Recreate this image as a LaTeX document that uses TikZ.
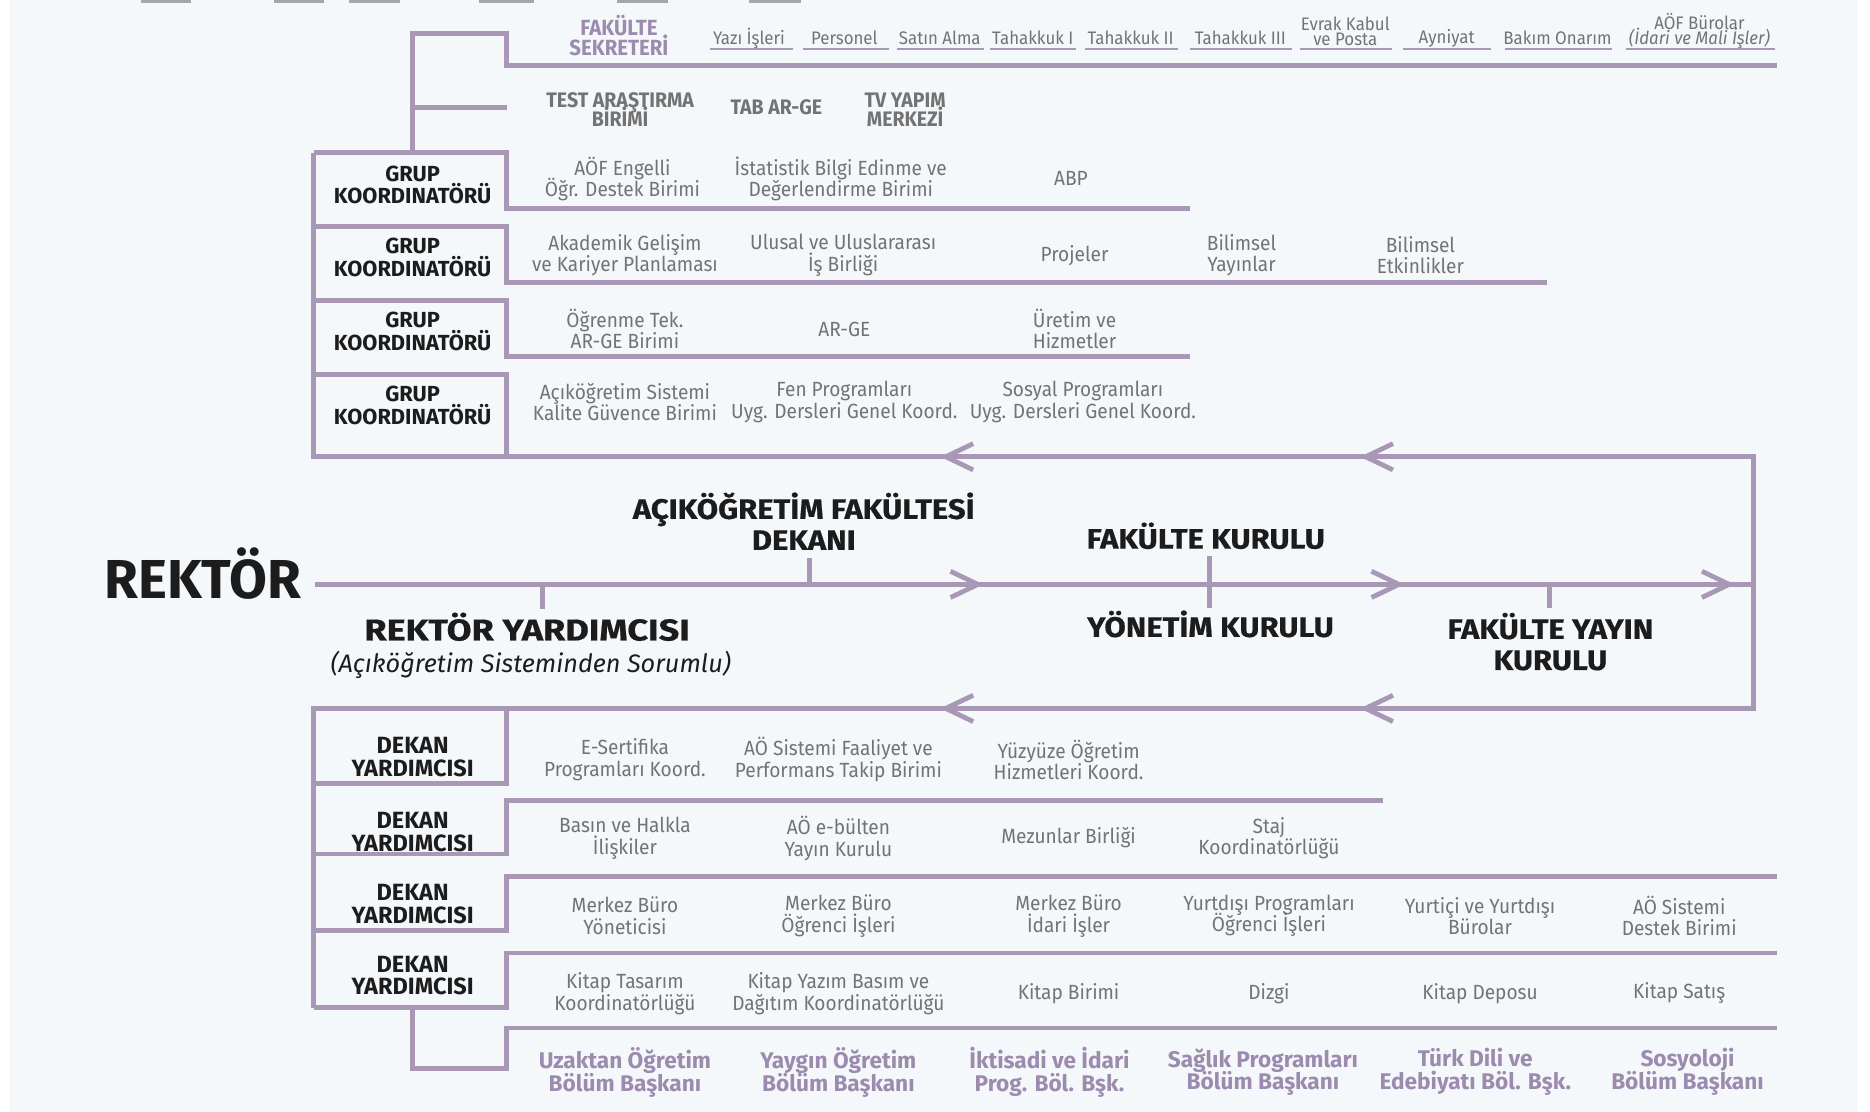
\documentclass[tikz,border=0pt]{standalone}
\usepackage{fontspec}
\setmainfont{Fira Sans}
\newfontfamily\itf{Fira Sans}[FakeStretch=0.93]
\newfontfamily\bdf{Fira Sans}[FakeStretch=1.0]
\newfontfamily\hdf{Fira Sans}[FakeStretch=1.1,FakeBold=0.6]
\newfontfamily\hdg{Fira Sans}[FakeStretch=1.2,FakeBold=0.6]
\definecolor{linec}{HTML}{A898B6}
\definecolor{greyc}{HTML}{737373}
\definecolor{purpc}{HTML}{9C8BAE}
\definecolor{blackc}{HTML}{1C1C1C}
\definecolor{bgc}{HTML}{F5F8FA}
\tikzset{
  ln/.style={draw=linec,line width=2pt},
  uln/.style={draw=linec,line width=1pt},
  item/.style={align=center,inner sep=0pt,text=greyc,font=\itf\fontsize{8.6}{9}\selectfont},
  sitem/.style={align=center,inner sep=0pt,text=greyc,font=\itf\fontsize{7.6}{6.2}\selectfont},
  sbold/.style={align=center,inner sep=0pt,text=greyc,font=\itf\bfseries\fontsize{8.8}{8}\selectfont},
  ptitle/.style={align=center,inner sep=0pt,text=purpc,font=\itf\bfseries\fontsize{9.2}{8.5}\selectfont},
  pbot/.style={align=center,inner sep=0pt,text=purpc,font=\bdf\bfseries\fontsize{9.5}{9.6}\selectfont},
  grplbl/.style={align=center,inner sep=0pt,text=blackc,font=\bdf\bfseries\fontsize{9.15}{9.5}\selectfont},
  deklbl/.style={align=center,inner sep=0pt,text=blackc,font=\bdf\bfseries\fontsize{9.85}{9.6}\selectfont},
  head/.style={align=center,inner sep=0pt,text=blackc,font=\hdf\bfseries\fontsize{11.8}{13}\selectfont},
  headry/.style={align=center,inner sep=0pt,text=blackc,font=\hdg\bfseries\fontsize{12.6}{13}\selectfont},
}
\begin{document}
\begin{tikzpicture}[x=0.5pt,y=-0.5pt]
\lineskiplimit=-100pt \lineskip=0pt
\useasboundingbox (0,0) rectangle (1568,932.4);
\fill[white] (0,0) rectangle (1568,932.4);
\fill[bgc] (8.4,0) rectangle (1558,932.4);
% cut-off marks at the top edge
\foreach \a/\b in {118/160,230/272,293/335,402/448,517/560,628/672}
  \fill[black!35] (\a,0) rectangle (\b,2.5);

% ---------- top bracket ----------
\coordinate (tA) at (346,28);
\coordinate (tB) at (425,28);
\coordinate (tC) at (425,55);
\coordinate (tD) at (1490,55);
\coordinate (tE) at (346,90);
\coordinate (tF) at (425,90);
\coordinate (tG) at (346,128);
\draw[ln] (tG) -- (tA) -- (tB) -- (tC) -- (tD);
\draw[ln] (tE) -- (tF);

\node[ptitle] (fs) at (519,30) {FAKÜLTE\\SEKRETERİ};
\node[sitem] (s1) at (628,32) {Yazı İşleri};
\node[sitem] (s2) at (708,32) {Personel};
\node[sitem] (s3) at (788,32) {Satın Alma};
\node[sitem] (s4) at (866,32) {Tahakkuk I};
\node[sitem] (s5) at (948,32) {Tahakkuk II};
\node[sitem] (s6) at (1040,32) {Tahakkuk III};
\node[sitem] (s7) at (1128,26) {Evrak Kabul\\ve Posta};
\node[sitem] (s8) at (1213,32) {Ayniyat};
\node[sitem] (s9) at (1306,32) {Bakım Onarım};
\node[sitem] (s10) at (1425,26) {AÖF Bürolar\\\itshape(İdari ve Mali İşler)};
\foreach \a/\b in {595/665,673/745,752/825,830/902,910/988,998/1083,1090/1167,1176/1250,1262/1352,1363/1488}
  \draw[uln] (\a,41) -- (\b,41);

\node[sbold] (ta) at (520,92) {TEST ARAŞTIRMA\\BİRİMİ};
\node[sbold] (tb) at (651,90) {TAB AR-GE};
\node[sbold] (tv) at (759,92) {TV YAPIM\\MERKEZİ};

% ---------- group coordinator boxes ----------
\coordinate (g1a) at (263,128); \coordinate (g1b) at (425,128); \coordinate (g1c) at (425,175); \coordinate (g1d) at (998,175);
\coordinate (g2a) at (263,190); \coordinate (g2b) at (425,190); \coordinate (g2c) at (425,237); \coordinate (g2d) at (1297,237);
\coordinate (g3a) at (263,252); \coordinate (g3b) at (425,252); \coordinate (g3c) at (425,299); \coordinate (g3d) at (998,299);
\coordinate (g4a) at (263,314); \coordinate (g4b) at (425,314); \coordinate (g4c) at (425,383);
\draw[ln] (g1a) -- (g1b) -- (g1c) -- (g1d);
\draw[ln] (g2a) -- (g2b) -- (g2c) -- (g2d);
\draw[ln] (g3a) -- (g3b) -- (g3c) -- (g3d);
\draw[ln] (g4a) -- (g4b) -- (g4c);

\node[grplbl] (gk1) at (346,155) {GRUP\\KOORDINATÖRÜ};
\node[grplbl] (gk2) at (346,216) {GRUP\\KOORDINATÖRÜ};
\node[grplbl] (gk3) at (346,278) {GRUP\\KOORDINATÖRÜ};
\node[grplbl] (gk4) at (346,340) {GRUP\\KOORDINATÖRÜ};

\node[item] at (522,150) {AÖF Engelli\\Öğr. Destek Birimi};
\node[item] at (705,150) {İstatistik Bilgi Edinme ve\\Değerlendirme Birimi};
\node[item] at (898,150) {ABP};

\node[item] at (524,214) {Akademik Gelişim\\ve Kariyer Planlaması};
\node[item] at (707,214) {Ulusal ve Uluslararası\\İş Birliği};
\node[item] at (901,214) {Projeler};
\node[item] at (1041,214) {Bilimsel\\Yayınlar};
\node[item] at (1191,214) {Bilimsel\\Etkinlikler};

\node[item] at (524,276) {Öğrenme Tek.\\AR-GE Birimi};
\node[item] at (708,276) {AR-GE};
\node[item] at (901,276) {Üretim ve\\Hizmetler};

\node[item] at (524,337) {Açıköğretim Sistemi\\Kalite Güvence Birimi};
\node[item] at (708,337) {Fen Programları\\Uyg. Dersleri Genel Koord.};
\node[item] at (908,337) {Sosyal Programları\\Uyg. Dersleri Genel Koord.};

% ---------- main loop ----------
\coordinate (L1) at (263,383);
\coordinate (R1) at (1470,383);
\coordinate (R2) at (1470,594);
\coordinate (L2) at (263,594);
\coordinate (L3) at (263,845);
\draw[ln] (g1a) -- (L1) -- (R1) -- (R2) -- (L2) -- (L3);

\node[anchor=base,text=blackc,inner sep=0pt,font=\bdf\bfseries\fontsize{23}{23}\selectfont] (rek) at (170,502) {REKTÖR};
\coordinate (M0) at (264,490);
\coordinate (M1) at (1470,490);
\draw[ln] (M0) -- (M1);

% chevrons
\foreach \x/\y in {793/383,1145/383,793/594,1145/594}
  \draw[ln] (\x+23,\y-11) -- (\x,\y) -- (\x+23,\y+11);
\foreach \x in {820,1173,1450}
  \draw[ln] (\x-23,479) -- (\x,490) -- (\x-23,501);

% ticks and labels
\node[headry,anchor=base] (ry) at (442,537) {REKTÖR YARDIMCISI};
\node[anchor=base,inner sep=0pt,text=blackc,font=\bdf\itshape\fontsize{10.6}{11}\selectfont] (rys) at (445,564) {(Açıköğretim Sisteminden Sorumlu)};
\draw[ln] (455,490) -- (455,511);

\node[head] (dek) at (674,437) {AÇIKÖĞRETİM FAKÜLTESİ\\DEKANI};
\draw[ln] (679,468) -- (679,490);

\node[head,anchor=base] (fk) at (1011,460) {FAKÜLTE KURULU};
\node[head,anchor=base] (yk) at (1015,534) {YÖNETİM KURULU};
\draw[ln] (1014,466) -- (1014,510);

\node[head] (fy) at (1300,538) {FAKÜLTE YAYIN\\KURULU};
\draw[ln] (1299,490) -- (1299,510);

% ---------- dean assistant boxes ----------
\coordinate (d1a) at (425,594); \coordinate (d1b) at (425,657); \coordinate (d1c) at (263,657);
\coordinate (d2e) at (1160,671); \coordinate (d2a) at (425,671); \coordinate (d2b) at (425,716); \coordinate (d2c) at (263,716);
\coordinate (d3e) at (1490,735); \coordinate (d3a) at (425,735); \coordinate (d3b) at (425,780); \coordinate (d3c) at (263,780);
\coordinate (d4e) at (1490,799); \coordinate (d4a) at (425,799); \coordinate (d4b) at (425,845); \coordinate (d4c) at (263,845);
\draw[ln] (d1a) -- (d1b) -- (d1c);
\draw[ln] (d2e) -- (d2a) -- (d2b) -- (d2c);
\draw[ln] (d3e) -- (d3a) -- (d3b) -- (d3c);
\draw[ln] (d4e) -- (d4a) -- (d4b) -- (d4c);
\coordinate (b0) at (346,845); \coordinate (b1) at (346,896); \coordinate (b2) at (425,896);
\coordinate (b3) at (425,862); \coordinate (b4) at (1490,862);
\draw[ln] (b0) -- (b1) -- (b2) -- (b3) -- (b4);

\node[deklbl] (dy1) at (346,635) {DEKAN\\YARDIMCISI};
\node[deklbl] (dy2) at (346,698) {DEKAN\\YARDIMCISI};
\node[deklbl] (dy3) at (346,758) {DEKAN\\YARDIMCISI};
\node[deklbl] (dy4) at (346,818) {DEKAN\\YARDIMCISI};

\node[item] at (524,637) {E-Sertifika\\Programları Koord.};
\node[item] at (703,637) {AÖ Sistemi Faaliyet ve\\Performans Takip Birimi};
\node[item] at (896,637) {Yüzyüze Öğretim\\Hizmetleri Koord.};

\node[item] at (524,703) {Basın ve Halkla\\İlişkiler};
\node[item] at (703,703) {AÖ e-bülten\\Yayın Kurulu};
\node[item] at (896,702) {Mezunlar Birliği};
\node[item] at (1064,703) {Staj\\Koordinatörlüğü};

\node[item] at (524,768) {Merkez Büro\\Yöneticisi};
\node[item] at (703,768) {Merkez Büro\\Öğrenci İşleri};
\node[item] at (896,768) {Merkez Büro\\İdari İşler};
\node[item] at (1064,768) {Yurtdışı Programları\\Öğrenci İşleri};
\node[item] at (1241,768) {Yurtiçi ve Yurtdışı\\Bürolar};
\node[item] at (1408,768) {AÖ Sistemi\\Destek Birimi};

\node[item] at (524,833) {Kitap Tasarım\\Koordinatörlüğü};
\node[item] at (703,833) {Kitap Yazım Basım ve\\Dağıtım Koordinatörlüğü};
\node[item] at (896,833) {Kitap Birimi};
\node[item] at (1064,833) {Dizgi};
\node[item] at (1241,833) {Kitap Deposu};
\node[item] at (1408,833) {Kitap Satış};

\node[pbot] at (524,899) {Uzaktan Öğretim\\Bölüm Başkanı};
\node[pbot] at (703,899) {Yaygın Öğretim\\Bölüm Başkanı};
\node[pbot] at (880,899) {İktisadi ve İdari\\Prog. Böl. Bşk.};
\node[pbot] at (1059,899) {Sağlık Programları\\Bölüm Başkanı};
\node[pbot] at (1237,899) {Türk Dili ve\\Edebiyatı Böl. Bşk.};
\node[pbot] at (1415,899) {Sosyoloji\\Bölüm Başkanı};
\end{tikzpicture}
\end{document}
